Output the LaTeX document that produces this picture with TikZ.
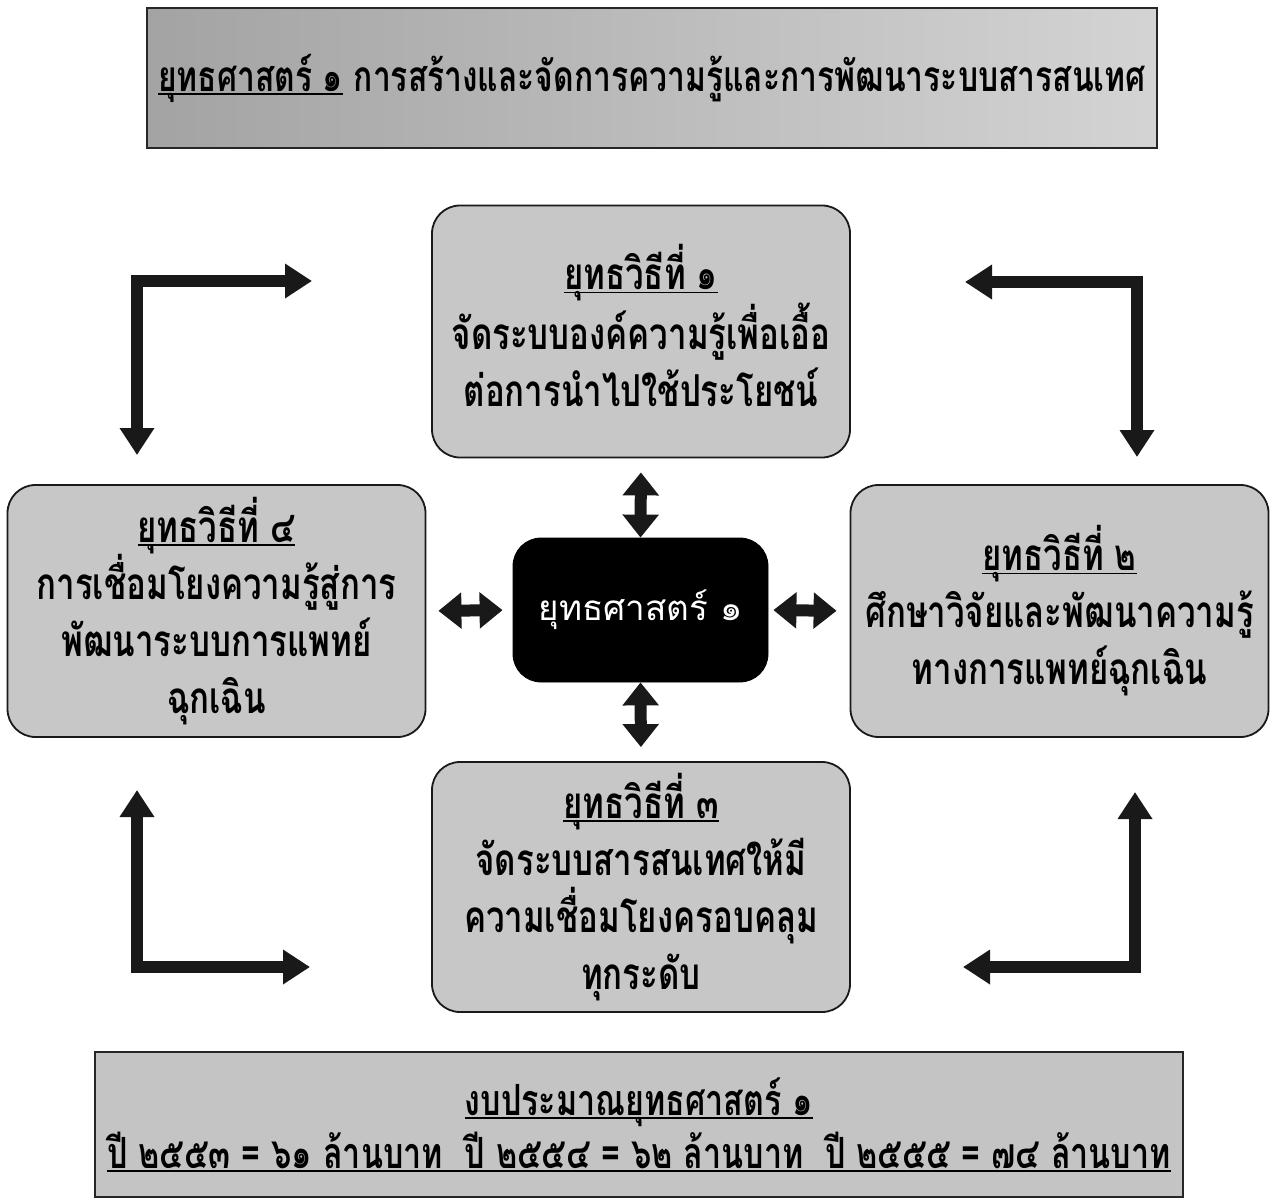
\documentclass[tikz,border=0pt]{standalone}
\usepackage{fontspec}
\usetikzlibrary{arrows.meta}
\newfontfamily\thaifont[Script=Thai]{Loma}
\newfontfamily\thainarrow[Script=Thai,FakeStretch=0.75]{Loma}
\newcommand\boxfont{\thainarrow\bfseries\fontsize{22}{28.5}\selectfont}
\newcommand\titlefont{\thainarrow\bfseries\fontsize{21.2}{26.5}\selectfont}
\newcommand\budgetfont{\thainarrow\bfseries\fontsize{21.5}{26.5}\selectfont}
\newcommand\hubfont{\thaifont\fontsize{17.5}{22}\selectfont}
% underline drawn close to the baseline
\newcommand\headline[1]{\setbox0=\hbox{#1}\rlap{\rule[-1.8pt]{\wd0}{0.8pt}}\box0\relax}

\begin{document}
\begin{tikzpicture}[x=0.5pt,y=-0.5pt,
  every node/.style={inner sep=0pt},
  plan/.style={draw=black!90, line width=0.9pt, rounded corners=14pt,
    fill=black!22, align=center, font=\boxfont,
    minimum width=209pt, minimum height=126pt},
  banner/.style={draw=black!85, line width=1.2pt, align=center},
  hub/.style={fill=black, draw=black, rounded corners=14pt, text=white,
    font=\hubfont, minimum width=127.5pt, minimum height=72pt},
  elbow/.style={line width=6pt, draw=black!90, line join=miter,
    {Triangle[width=16.5pt,length=13.5pt]}-{Triangle[width=16.5pt,length=13.5pt]}},
  link/.style={line width=6pt, draw=black!90,
    {Triangle[width=17.5pt,length=11.5pt]}-{Triangle[width=17.5pt,length=11.5pt]}}
]
\useasboundingbox (0,0) rectangle (1280,1204);

% title banner
\node[banner, font=\titlefont, minimum width=505pt, minimum height=70pt,
  left color=black!36, right color=black!17] (title) at (652,78)
  {\headline{ยุทธศาสตร์ ๑} การสร้างและจัดการความรู้และการพัฒนาระบบสารสนเทศ};

% four tactics around the hub
\node[plan] (s1) at (641,331.5)
  {\headline{ยุทธวิธีที่ ๑}\\จัดระบบองค์ความรู้เพื่อเอื้อ\\ต่อการนำไปใช้ประโยชน์\vphantom{ฉุ}};
\node[plan] (s4) at (216.5,611)
  {\headline{ยุทธวิธีที่ ๔}\\การเชื่อมโยงความรู้สู่การ\\พัฒนาระบบการแพทย์\\ฉุกเฉิน};
\node[plan] (s2) at (1059.5,611)
  {\headline{ยุทธวิธีที่ ๒}\\ศึกษาวิจัยและพัฒนาความรู้\\ทางการแพทย์ฉุกเฉิน};
\node[plan, minimum height=125pt] (s3) at (641,887)
  {\headline{ยุทธวิธีที่ ๓}\\จัดระบบสารสนเทศให้มี\\ความเชื่อมโยงครอบคลุม\\ทุกระดับ};

% central strategy
\node[hub] (hub) at (640.5,610) {ยุทธศาสตร์ ๑};

% budget banner
\node[banner, font=\budgetfont, minimum width=544pt, minimum height=72.5pt,
  fill=black!23] (budget) at (639,1124.5)
  {\headline{งบประมาณยุทธศาสตร์ ๑}\\
   \headline{ปี ๒๕๕๓ = ๖๑ ล้านบาท\ \ ปี ๒๕๕๔ = ๖๒ ล้านบาท\ \ ปี ๒๕๕๕ = ๗๔ ล้านบาท}};

% two-way links between hub and tactics
\draw[link, shorten >=7pt] (hub.north) -- (s1.south);
\draw[link, shorten >=7pt] (hub.south) -- (s3.north);
\draw[link, shorten <=5pt, shorten >=6pt] (hub.west) -- (s4.east);
\draw[link, shorten <=2.5pt, shorten >=6.5pt] (hub.east) -- (s2.west);

% elbow arrows in the four corners
\coordinate (tlA) at (137,455); \coordinate (tlC) at (137,281); \coordinate (tlB) at (312,281);
\coordinate (trA) at (965,282); \coordinate (trC) at (1137,282); \coordinate (trB) at (1137,457);
\coordinate (blA) at (137,790); \coordinate (blC) at (137,967); \coordinate (blB) at (310,967);
\coordinate (brA) at (1135,792); \coordinate (brC) at (1135,967); \coordinate (brB) at (963,967);
\draw[elbow] (tlA) -- (tlC) -- (tlB);
\draw[elbow] (trA) -- (trC) -- (trB);
\draw[elbow] (blA) -- (blC) -- (blB);
\draw[elbow] (brA) -- (brC) -- (brB);
\end{tikzpicture}
\end{document}
